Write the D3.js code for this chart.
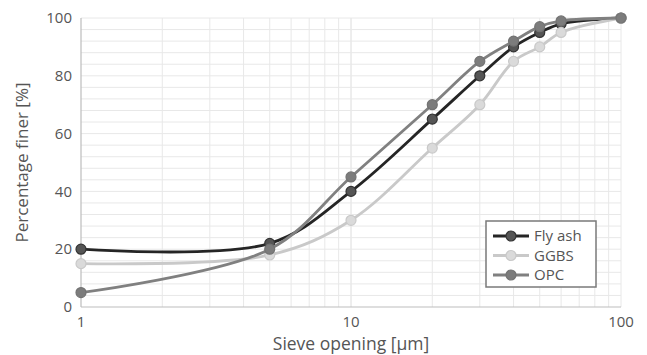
<!DOCTYPE html>
<html><head><meta charset="utf-8">
<script src="https://cdn.jsdelivr.net/npm/d3@7"></script>
<style>
html,body{margin:0;padding:0;background:#fff;}
svg text{font-family:"Open Sans","Noto Sans",sans-serif;fill:#555;}
</style></head>
<body><svg id="chart" width="647" height="355"></svg>
<script>
const sieve = [1, 5, 10, 20, 30, 40, 50, 60, 100];
const flyAsh = [20, 22, 40, 65, 80, 90, 95, 98, 100];
const ggbs   = [15, 18, 30, 55, 70, 85, 90, 95, 100];
const opc    = [5, 20, 45, 70, 85, 92, 97, 99, 100];
const seriesNames = ["Fly ash", "GGBS", "OPC"];
const yTicks = [0, 20, 40, 60, 80, 100];
const xTicks = [1, 10, 100];

const styles = {
  "Fly ash": {line:"#252525", fill:"#555555", stroke:"#333333"},
  "GGBS":    {line:"#c9c9c9", fill:"#dadada", stroke:"#c9c9c9"},
  "OPC":     {line:"#808080", fill:"#7c7c7c", stroke:"#737373"}
};
const data = [flyAsh, ggbs, opc];

const svg = d3.select("#chart");
const margin = {left:81, right:26, top:18, bottom:48};
const W = 647, H = 355;
const x = d3.scaleLog().domain([1,100]).range([margin.left, W-margin.right]);
const y = d3.scaleLinear().domain([0,100]).range([H-margin.bottom, margin.top]);

// gridlines
const g = svg.append("g");
const minorX = [];
for (let d=1; d<100; d*=10) for (let k=1;k<=10;k++) minorX.push(d*k);
g.selectAll("line.vx").data(minorX.filter(v=>v>1)).enter().append("line")
  .attr("x1",d=>x(d)).attr("x2",d=>x(d)).attr("y1",y(0)).attr("y2",y(100))
  .attr("stroke","#e8e8e8").attr("stroke-width",1);
g.selectAll("line.hy").data(d3.range(4,101,4)).enter().append("line")
  .attr("x1",x(1)).attr("x2",x(100)).attr("y1",d=>y(d)).attr("y2",d=>y(d))
  .attr("stroke","#e8e8e8").attr("stroke-width",1);

// axes lines
svg.append("line").attr("x1",x(1)).attr("x2",x(1)).attr("y1",y(0)).attr("y2",y(100)).attr("stroke","#bdbdbd").attr("stroke-width",1.2);
svg.append("line").attr("x1",x(1)).attr("x2",x(100)).attr("y1",y(0)).attr("y2",y(0)).attr("stroke","#bdbdbd").attr("stroke-width",1.2);

// tick labels
svg.selectAll("text.yt").data(yTicks).enter().append("text")
  .attr("x",x(1)-9).attr("y",d=>y(d)).attr("dy","0.35em")
  .attr("text-anchor","end").attr("font-size",15).text(d=>d);
svg.selectAll("text.xt").data(xTicks).enter().append("text")
  .attr("x",d=>x(d)).attr("y",y(0)+15).attr("dy","0.35em")
  .attr("text-anchor","middle").attr("font-size",15).text(d=>d);

// titles
svg.append("text").attr("x",(x(1)+x(100))/2).attr("y",344).attr("dy","0.35em")
  .attr("text-anchor","middle").attr("font-size",17.5).text("Sieve opening [μm]");
svg.append("text").attr("transform",`translate(22,${(y(0)+y(100))/2}) rotate(-90)`)
  .attr("dy","0.35em").attr("text-anchor","middle").attr("font-size",17).text("Percentage finer [%]");

// series
const line = d3.line().x((d,i)=>x(sieve[i])).y(d=>y(d)).curve(d3.curveCatmullRom.alpha(0.5));
data.forEach((vals,si)=>{
  const st = styles[seriesNames[si]];
  const sg = svg.append("g");
  sg.append("path").attr("d",line(vals)).attr("fill","none").attr("stroke",st.line).attr("stroke-width",2.8);
  sg.selectAll("circle").data(vals).enter().append("circle")
    .attr("cx",(d,i)=>x(sieve[i])).attr("cy",d=>y(d)).attr("r",5)
    .attr("fill",st.fill).attr("stroke",st.stroke).attr("stroke-width",1.2);
});

// legend
const lg = svg.append("g");
lg.append("rect").attr("x",486).attr("y",221).attr("width",110).attr("height",66)
  .attr("fill","#fff").attr("stroke","#7a7a7a").attr("stroke-width",1.5);
seriesNames.forEach((n,i)=>{
  const st = styles[n];
  const yy = 236 + i*19.5;
  lg.append("line").attr("x1",493).attr("x2",529).attr("y1",yy).attr("y2",yy).attr("stroke",st.line).attr("stroke-width",2.8);
  lg.append("circle").attr("cx",511).attr("cy",yy).attr("r",5).attr("fill",st.fill).attr("stroke",st.stroke).attr("stroke-width",1.2);
  lg.append("text").attr("x",534).attr("y",yy).attr("dy","0.35em").attr("font-size",15).text(n);
});
</script></body></html>
